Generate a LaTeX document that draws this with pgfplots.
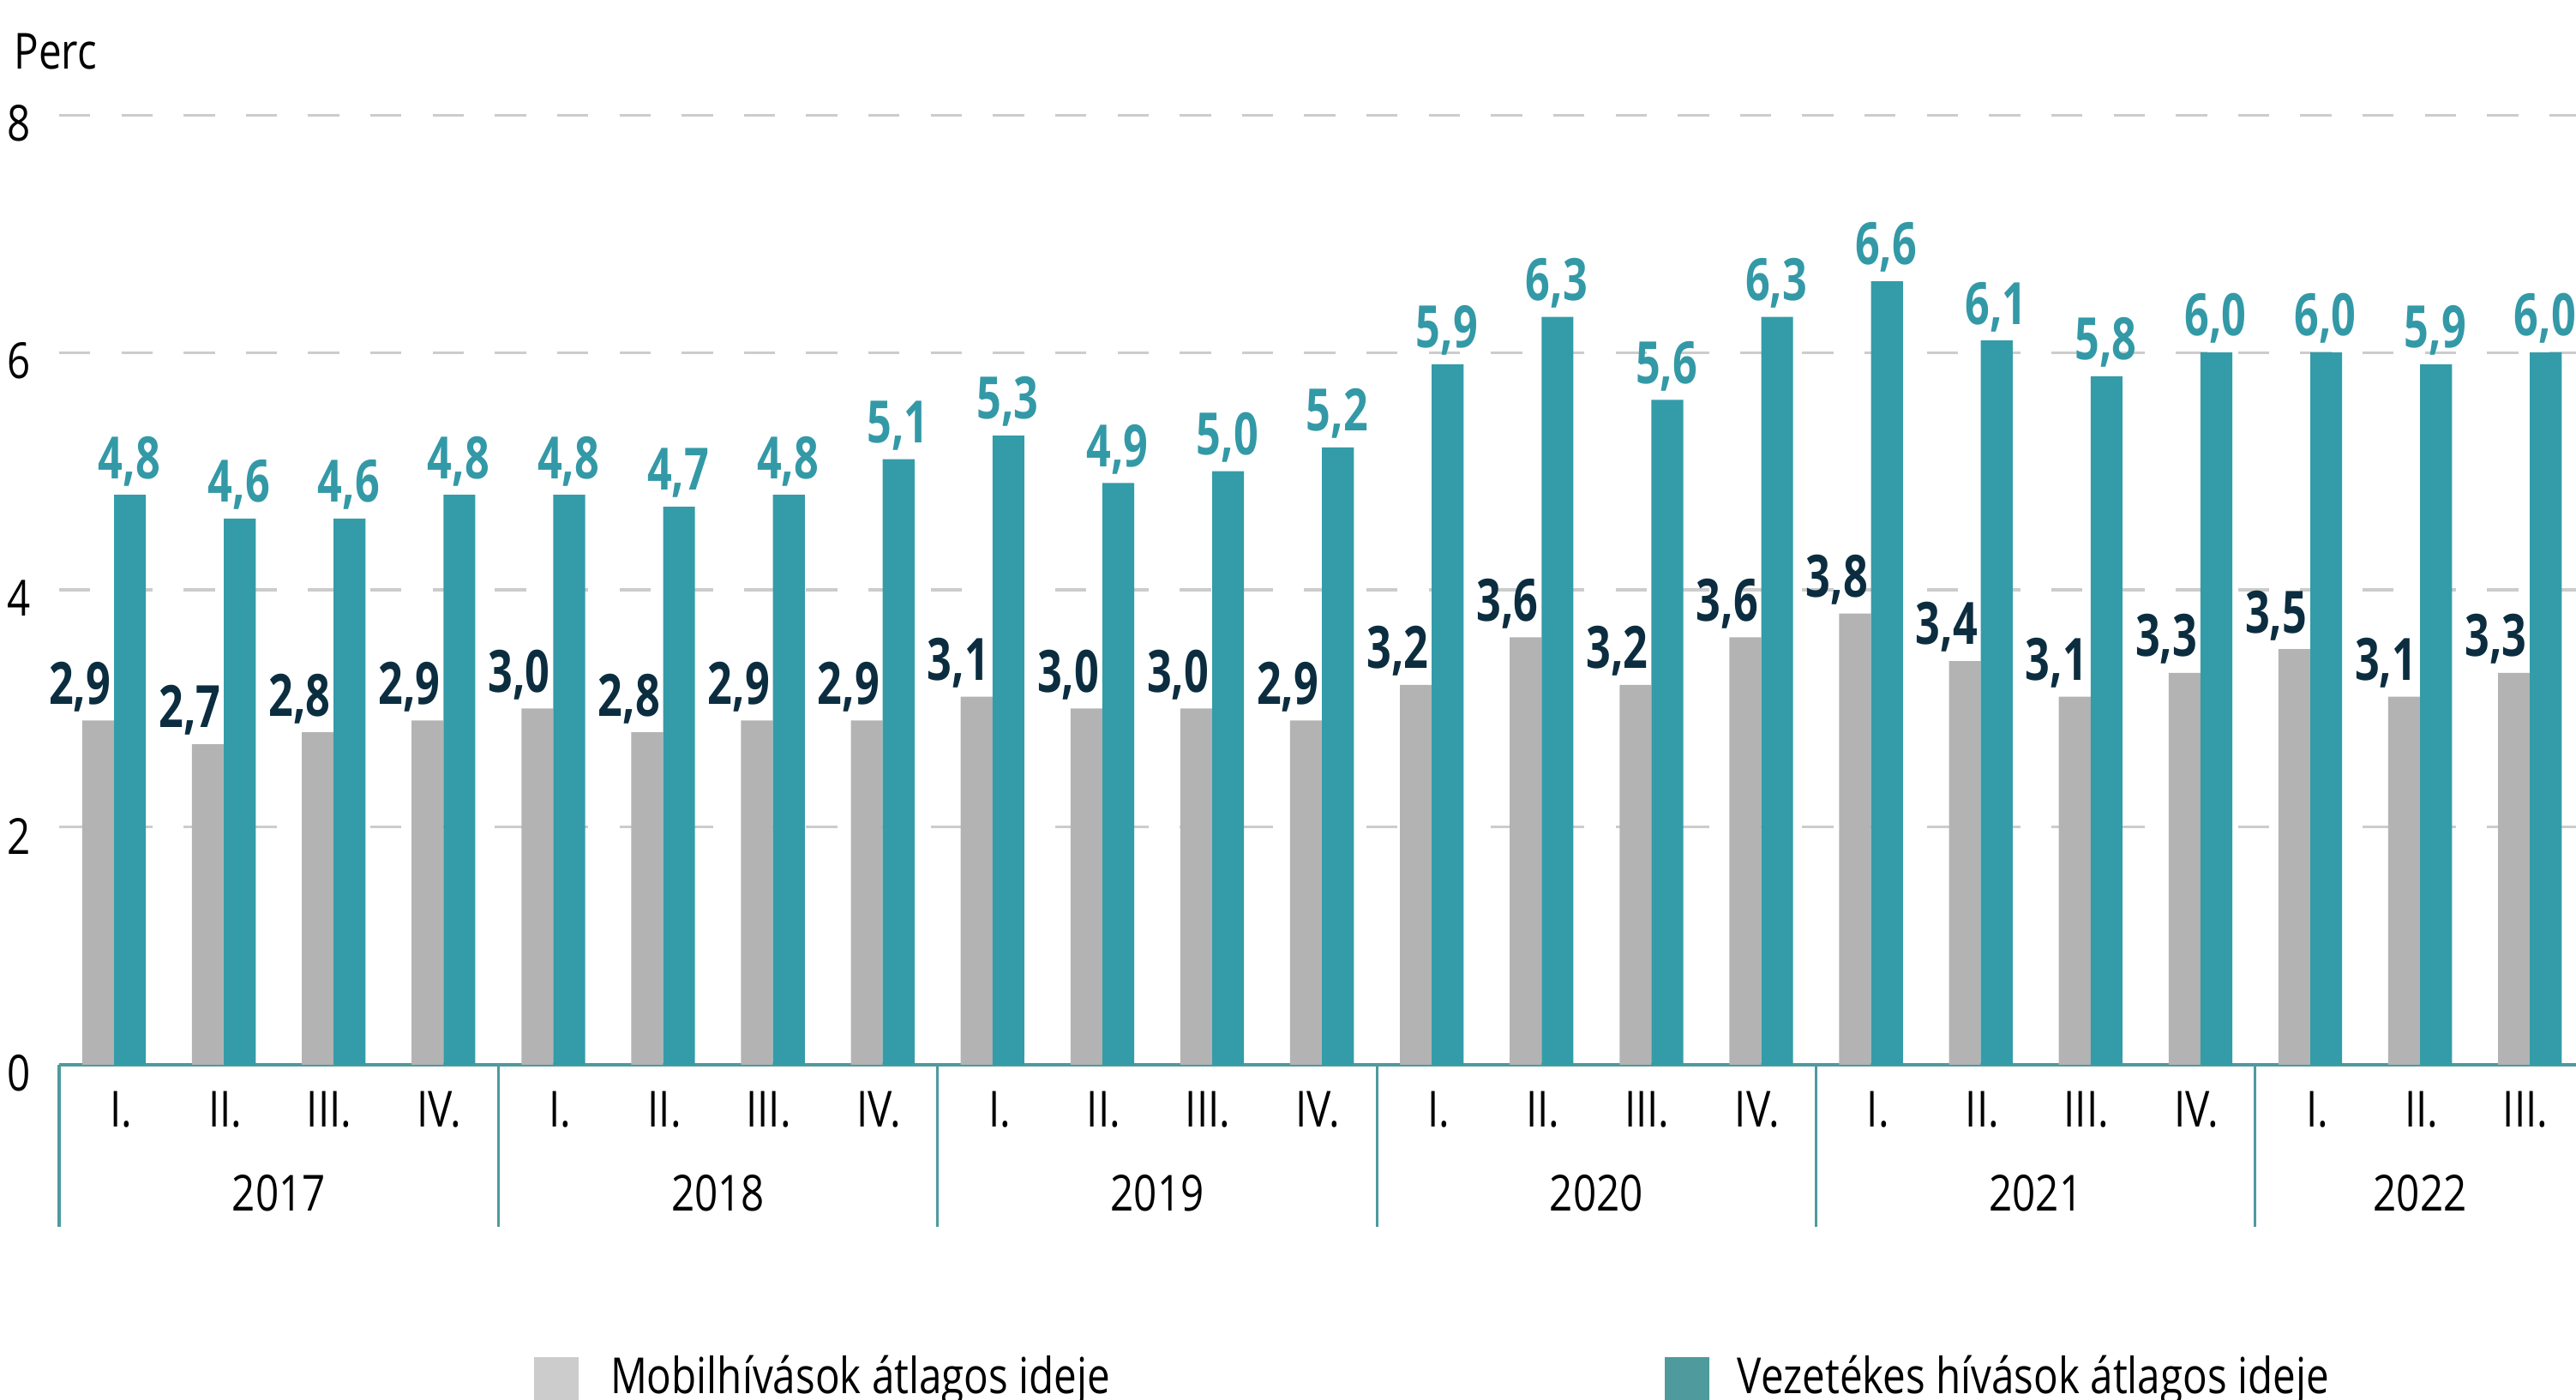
\documentclass[border=0pt]{standalone}
\usepackage{fontspec}
\setmainfont{Open Sans}[FakeStretch=0.82]
\newfontfamily\labfont{Open Sans}[FakeStretch=0.74]
\usepackage{pgfplots}
\pgfplotsset{compat=1.18}
\definecolor{greybar}{HTML}{B3B3B3}
\definecolor{tealbar}{HTML}{339CA8}
\definecolor{navy}{HTML}{0B2D3F}
\definecolor{teallab}{HTML}{3399A6}
\definecolor{axiscol}{HTML}{4E9A9E}
\definecolor{gridcol}{HTML}{CCCCCC}
\definecolor{leggrey}{HTML}{CCCCCC}
\definecolor{legteal}{HTML}{4F9A9C}
\newcommand{\tf}{\fontsize{11.5bp}{13bp}\selectfont}
\newcommand{\lf}{\labfont\bfseries\fontsize{13.5bp}{15bp}\selectfont}
\begin{document}
\begin{tikzpicture}
\begin{axis}[
  at={(0,0)}, anchor=south west,
  scale only axis, width=582.16bp, height=219.64bp,
  xmin=-0.5, xmax=22.42, ymin=0, ymax=8,
  clip=false,
  axis x line*=bottom, axis y line*=left,
  y axis line style={draw=none},
  x axis line style={-, draw=axiscol, line width=0.7bp},
  major tick length=0pt,
  xtick={0,...,22},
  xticklabels={I.,II.,III.,IV.,I.,II.,III.,IV.,I.,II.,III.,IV.,I.,II.,III.,IV.,I.,II.,III.,IV.,I.,II.,III.},
  xticklabel style={anchor=base east, yshift=-14.5bp, xshift=4.4bp, font=\tf, inner sep=0pt},
  ytick={0,2,4,6,8},
  yticklabel style={anchor=east, inner sep=0pt, xshift=-6.5bp, yshift=-2bp, font=\tf},
  /pgf/number format/assume math mode=true,
  ymajorgrids,
  major grid style={draw=gridcol, line width=0.6bp, dash pattern=on 7.2bp off 7.2bp},
]
\addplot[ybar, bar width=0.29, bar shift=-0.145, fill=greybar, draw=none,
  nodes near coords={\pgfmathprintnumber[fixed,fixed zerofill,precision=1,use comma]{\pgfplotspointmeta}},
  every node near coord/.append style={anchor=base, inner sep=0pt, yshift=3.8bp, xshift=-7.9bp, font=\lf, text=navy}]
  coordinates {(0,2.9) (1,2.7) (2,2.8) (3,2.9)
               (4,3.0) (5,2.8) (6,2.9) (7,2.9)
               (8,3.1) (9,3.0) (10,3.0) (11,2.9)
               (12,3.2) (13,3.6) (14,3.2) (15,3.6)
               (16,3.8) (17,3.4) (18,3.1) (19,3.3)
               (20,3.5) (21,3.1) (22,3.3)};
\addplot[ybar, bar width=0.29, bar shift=0.145, fill=tealbar, draw=none,
  nodes near coords={\pgfmathprintnumber[fixed,fixed zerofill,precision=1,use comma]{\pgfplotspointmeta}},
  every node near coord/.append style={anchor=base, inner sep=0pt, yshift=3.8bp, xshift=3.5bp, font=\lf, text=teallab}]
  coordinates {(0,4.8) (1,4.6) (2,4.6) (3,4.8)
               (4,4.8) (5,4.7) (6,4.8) (7,5.1)
               (8,5.3) (9,4.9) (10,5.0) (11,5.2)
               (12,5.9) (13,6.3) (14,5.6) (15,6.3)
               (16,6.6) (17,6.1) (18,5.8) (19,6.0)
               (20,6.0) (21,5.9) (22,6.0)};
\draw[axiscol, line width=0.6bp] (axis cs:-0.5,0) -- ([yshift=-37.6bp]axis cs:-0.5,0);
\draw[axiscol, line width=0.6bp] (axis cs:3.5,0) -- ([yshift=-37.6bp]axis cs:3.5,0);
\draw[axiscol, line width=0.6bp] (axis cs:7.5,0) -- ([yshift=-37.6bp]axis cs:7.5,0);
\draw[axiscol, line width=0.6bp] (axis cs:11.5,0) -- ([yshift=-37.6bp]axis cs:11.5,0);
\draw[axiscol, line width=0.6bp] (axis cs:15.5,0) -- ([yshift=-37.6bp]axis cs:15.5,0);
\draw[axiscol, line width=0.6bp] (axis cs:19.5,0) -- ([yshift=-37.6bp]axis cs:19.5,0);
\node[anchor=base, inner sep=0pt, font=\tf] at ([yshift=-33.8bp]axis cs:1.5,0) {2017};
\node[anchor=base, inner sep=0pt, font=\tf] at ([yshift=-33.8bp]axis cs:5.5,0) {2018};
\node[anchor=base, inner sep=0pt, font=\tf] at ([yshift=-33.8bp]axis cs:9.5,0) {2019};
\node[anchor=base, inner sep=0pt, font=\tf] at ([yshift=-33.8bp]axis cs:13.5,0) {2020};
\node[anchor=base, inner sep=0pt, font=\tf] at ([yshift=-33.8bp]axis cs:17.5,0) {2021};
\node[anchor=base, inner sep=0pt, font=\tf] at ([yshift=-33.8bp]axis cs:21.0,0) {2022};
\end{axis}
\node[anchor=base west, inner sep=0pt, font=\tf] at (-10.6bp,230.3bp) {Perc};
\fill[leggrey] (109.8bp,-67.6bp) rectangle ++(10.3bp,-10.3bp);
\node[anchor=base west, inner sep=0pt, font=\tf] at (127.3bp,-76bp) {Mobilhívások átlagos ideje};
\fill[legteal] (371.3bp,-67.6bp) rectangle ++(10.3bp,-10.3bp);
\node[anchor=base west, inner sep=0pt, font=\tf] at (388bp,-76bp) {Vezetékes hívások átlagos ideje};
\pgfresetboundingbox
\path[use as bounding box] (-13.68bp,-77.52bp) rectangle (582.16bp,246.24bp);
\end{tikzpicture}
\end{document}
